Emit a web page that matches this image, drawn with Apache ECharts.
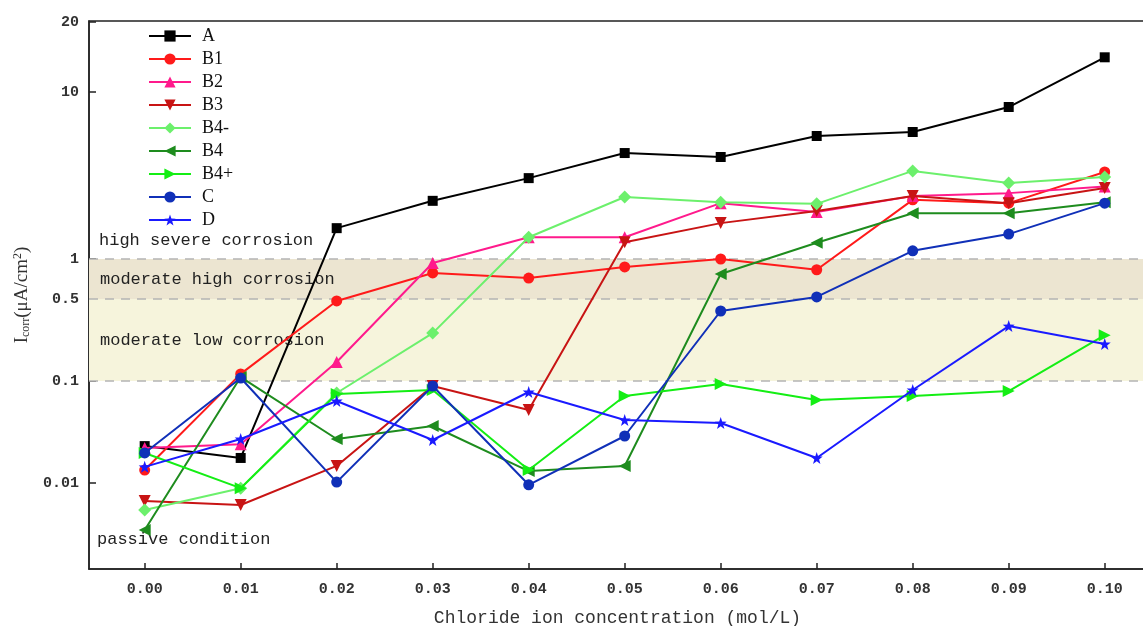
<!DOCTYPE html>
<html><head><meta charset="utf-8">
<script src="https://cdn.jsdelivr.net/npm/echarts@6/dist/echarts.min.js"></script>
<style>html,body{margin:0;padding:0;background:#fff}#c{width:1143px;height:626px}</style>
</head><body><div id="c"></div>
<script>
// ---- data ----
const xLabels = ['0.00','0.01','0.02','0.03','0.04','0.05','0.06','0.07','0.08','0.09','0.10'];
const seriesNames = ['A','B1','B2','B3','B4-','B4','B4+','C','D'];
const A   = [0.023, 0.0176, 1.53, 2.23, 3.05, 4.31, 4.08, 5.45, 5.76, 8.13, 14.1];
const B1  = [0.0134, 0.115, 0.481, 0.785, 0.719, 0.871, 1.0, 0.83, 2.26, 2.16, 3.32];
const B2  = [0.022, 0.024, 0.145, 0.933, 1.35, 1.35, 2.16, 1.91, 2.38, 2.48, 2.72];
const B3  = [0.00666, 0.00608, 0.0147, 0.0893, 0.052, 1.26, 1.64, 1.94, 2.38, 2.16, 2.66];
const B4m = [0.00543, 0.0089, 0.0763, 0.256, 1.35, 2.35, 2.19, 2.14, 3.37, 2.85, 3.10];
const B4  = [0.00346, 0.108, 0.027, 0.0362, 0.0131, 0.0147, 0.771, 1.25, 1.88, 1.88, 2.19];
const B4p = [0.0197, 0.0089, 0.0746, 0.0816, 0.0134, 0.0713, 0.0935, 0.065, 0.0713, 0.0797, 0.246];
const C   = [0.0197, 0.106, 0.0102, 0.0893, 0.0096, 0.0289, 0.395, 0.518, 1.12, 1.41, 2.16];
const D   = [0.0144, 0.027, 0.0637, 0.0264, 0.078, 0.0415, 0.0387, 0.0176, 0.0816, 0.294, 0.207];
const yTickValues = [0.01, 0.1, 0.5, 1, 10, 20];
const yTickLabels = ['0.01','0.1','0.5','1','10','20'];
const zoneLabels = ['high severe corrosion','moderate high corrosion','moderate low corrosion','passive condition'];
const zoneBounds = [1, 0.5, 0.1];

// ---- custom broken-log y scale (axis units) ----
const scaleLog = [-2, -1, Math.log10(0.5), 0, 1, Math.log10(20)];
const scaleU   = [86, 188, 270, 310, 477, 547];
const U_MAX = 548;
function toU(v){
  const L = Math.log10(v);
  if (L <= scaleLog[0]) return scaleU[0] + (L - scaleLog[0]) * 102;
  for (let i = 0; i < scaleLog.length - 1; i++) {
    if (L <= scaleLog[i+1]) {
      return scaleU[i] + (L - scaleLog[i]) / (scaleLog[i+1] - scaleLog[i]) * (scaleU[i+1] - scaleU[i]);
    }
  }
  const n = scaleLog.length - 1;
  return scaleU[n] + (L - scaleLog[n]) / (scaleLog[n] - scaleLog[n-1]) * (scaleU[n] - scaleU[n-1]);
}
const xVals = xLabels.map(s => parseFloat(s));
const yTickU = yTickValues.map(toU);
const uLabel = {};
yTickU.forEach((u,i) => { uLabel[u.toFixed(3)] = yTickLabels[i]; });

const styles = [
  {color:'#000000', symbol:'rect', rot:0, size:10},
  {color:'#ff1a1a', symbol:'circle', rot:0, size:11},
  {color:'#ff1a8c', symbol:'triangle', rot:0, size:12},
  {color:'#c81414', symbol:'triangle', rot:180, size:12},
  {color:'#6cf06c', symbol:'diamond', rot:0, size:13},
  {color:'#1e8c1e', symbol:'triangle', rot:90, size:12},
  {color:'#14ee14', symbol:'triangle', rot:-90, size:12},
  {color:'#1030b8', symbol:'circle', rot:0, size:11},
  {color:'#1a1aff', symbol:'path://M0,-10 L2.35,-3.24 L9.51,-3.09 L3.8,1.24 L5.88,8.09 L0,4 L-5.88,8.09 L-3.8,1.24 L-9.51,-3.09 L-2.35,-3.24 Z', rot:0, size:12}
];
const allData = [A, B1, B2, B3, B4m, B4, B4p, C, D];

const labelFont = {fontFamily:'Liberation Mono', fontSize:17, color:'#222'};
const series = allData.map((vals, k) => {
  const st = styles[k];
  const s = {
    name: seriesNames[k], type:'line',
    data: vals.map((v,i) => [xVals[i], toU(v)]),
    symbol: st.symbol, symbolSize: st.size, symbolRotate: st.rot,
    lineStyle:{color:st.color, width:2}, itemStyle:{color:st.color},
    z: 5 + k
  };
  if (k === 0) {
    s.markArea = {
      silent:true,
      data:[
        [{yAxis: toU(zoneBounds[0]), itemStyle:{color:'rgba(0,0,0,0)'},
          label:Object.assign({show:true, position:'insideBottomLeft', distance:10, formatter:zoneLabels[0]}, labelFont)},
         {yAxis: toU(20)}],
        [{yAxis: toU(zoneBounds[1]), itemStyle:{color:'#ece5d1'},
          label:Object.assign({show:true, position:'insideLeft', distance:11, formatter:zoneLabels[1]}, labelFont)},
         {yAxis: toU(zoneBounds[0])}],
        [{yAxis: toU(zoneBounds[2]), itemStyle:{color:'#f6f4dc'},
          label:Object.assign({show:true, position:'insideLeft', distance:11, formatter:zoneLabels[2]}, labelFont)},
         {yAxis: toU(zoneBounds[1])}],
        [{yAxis: 0, itemStyle:{color:'rgba(0,0,0,0)'},
          label:Object.assign({show:true, position:'insideBottomLeft', distance:8, offset:[0,-13], formatter:zoneLabels[3]}, labelFont)},
         {yAxis: toU(zoneBounds[2])}]
      ]
    };
    s.markLine = {
      silent:true, symbol:'none', label:{show:false},
      lineStyle:{type:[9,7], color:'#b4b4b4', width:1.5},
      data: zoneBounds.map(b => ({yAxis: toU(b)}))
    };
  }
  return s;
});

const chart = echarts.init(document.getElementById('c'), null, {renderer:'canvas'});
chart.setOption({
  animation:false,
  backgroundColor:'#fff',
  grid:{left:89, top:21, right:-3, bottom:57, show:true, borderColor:'#222', borderWidth:1.5,
        containLabel:false, outerBoundsMode:'none'},
  legend:{
    orient:'vertical', left:143, top:22, itemWidth:42, itemHeight:14, itemGap:5,
    textStyle:{fontFamily:'Liberation Serif', fontSize:18, color:'#111', padding:[0,0,0,6]},
    data: seriesNames
  },
  xAxis:{
    type:'value', min:-0.0058, max:0.1043,
    name:'Chloride ion concentration (mol/L)', nameLocation:'middle', nameGap:40,
    nameTextStyle:{fontFamily:'Liberation Mono', fontSize:18, color:'#333'},
    axisLine:{show:true, onZero:false, lineStyle:{color:'#222', width:1.5}},
    axisTick:{show:true, inside:true, length:6, customValues:xVals, lineStyle:{color:'#222', width:1.5}},
    axisLabel:{customValues:xVals, formatter:v => v.toFixed(2), margin:13,
      fontFamily:'Liberation Mono', fontSize:15, fontWeight:'bold', color:'#333'},
    splitLine:{show:false}
  },
  yAxis:{
    type:'value', min:0, max:U_MAX,
    name:'I{sub|corr}(μA/cm{sup|2})', nameLocation:'middle', nameGap:56, nameRotate:90,
    nameTextStyle:{fontFamily:'Liberation Serif', fontSize:19, color:'#333',
      rich:{sub:{fontFamily:'Liberation Serif', fontSize:12, color:'#333', verticalAlign:'bottom', padding:[8,0,0,0]},
            sup:{fontFamily:'Liberation Serif', fontSize:12, color:'#333', verticalAlign:'top', padding:[0,0,8,0]}}},
    axisLine:{show:true, onZero:false, lineStyle:{color:'#222', width:1.5}},
    axisTick:{show:true, inside:true, length:7, customValues:yTickU, lineStyle:{color:'#222', width:1.5}},
    axisLabel:{customValues:yTickU, formatter:v => uLabel[v.toFixed(3)] || '', margin:10,
      fontFamily:'Liberation Mono', fontSize:15, fontWeight:'bold', color:'#333'},
    splitLine:{show:false}
  },
  series: series
});
</script>
</body></html>
